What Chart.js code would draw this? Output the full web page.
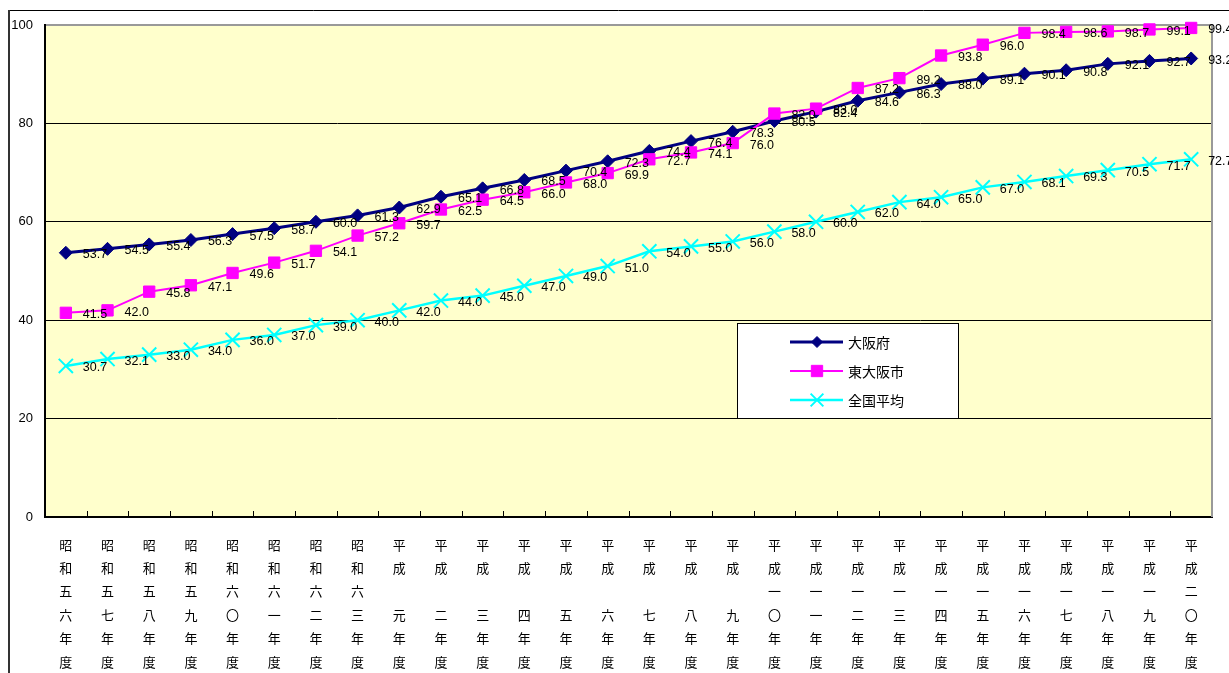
<!DOCTYPE html>
<html lang="ja">
<head>
<meta charset="utf-8">
<title>大阪府・東大阪市・全国平均の推移</title>
<script src="https://cdn.jsdelivr.net/npm/chart.js@4.4.1/dist/chart.umd.min.js"></script>
<style>
  html, body { margin: 0; padding: 0; background: #ffffff; overflow: hidden; }
  canvas { display: block; }
</style>
</head>
<body>
<canvas id="chart" width="1229" height="673"></canvas>
<script>
// Fiscal years, written one character per row (full-width space keeps the rows aligned)
const categories = [
  '昭和五六年度', '昭和五七年度', '昭和五八年度', '昭和五九年度',
  '昭和六〇年度', '昭和六一年度', '昭和六二年度', '昭和六三年度',
  '平成　元年度', '平成　二年度', '平成　三年度', '平成　四年度',
  '平成　五年度', '平成　六年度', '平成　七年度', '平成　八年度',
  '平成　九年度', '平成一〇年度', '平成一一年度', '平成一二年度',
  '平成一三年度', '平成一四年度', '平成一五年度', '平成一六年度',
  '平成一七年度', '平成一八年度', '平成一九年度', '平成二〇年度'
];

const seriesNames = ['大阪府', '東大阪市', '全国平均'];

const osakaFu = [
  53.7, 54.5, 55.4, 56.3, 57.5, 58.7, 60.0, 61.3,
  62.9, 65.1, 66.8, 68.5, 70.4, 72.3, 74.4, 76.4,
  78.3, 80.5, 82.4, 84.6, 86.3, 88.0, 89.1, 90.1,
  90.8, 92.1, 92.7, 93.2
];

const higashiOsaka = [
  41.5, 42.0, 45.8, 47.1, 49.6, 51.7, 54.1, 57.2,
  59.7, 62.5, 64.5, 66.0, 68.0, 69.9, 72.7, 74.1,
  76.0, 82.0, 83.0, 87.2, 89.2, 93.8, 96.0, 98.4,
  98.6, 98.7, 99.1, 99.4
];

const nationalAvg = [
  30.7, 32.1, 33.0, 34.0, 36.0, 37.0, 39.0, 40.0,
  42.0, 44.0, 45.0, 47.0, 49.0, 51.0, 54.0, 55.0,
  56.0, 58.0, 60.0, 62.0, 64.0, 65.0, 67.0, 68.1,
  69.3, 70.5, 71.7, 72.7
];

const yTicks = [0, 20, 40, 60, 80, 100];

const CJK = '"Noto Sans CJK JP", "Noto Sans", sans-serif';
const NUM = '"Liberation Sans", Arial, sans-serif';

// Yellow plot fill, outer frame, grey plot edge and inner category tick marks
const framePlugin = {
  id: 'frame',
  beforeDraw(chart) {
    const { ctx, chartArea: a } = chart;
    ctx.save();
    ctx.fillStyle = '#FFFFCC';
    ctx.fillRect(a.left, a.top, a.right - a.left, a.bottom - a.top);
    ctx.strokeStyle = '#000000';
    ctx.lineWidth = 1;
    ctx.beginPath();
    ctx.moveTo(8, 10.5);
    ctx.lineTo(chart.width, 10.5);
    ctx.stroke();
    ctx.strokeStyle = '#333333';
    ctx.lineWidth = 2;
    ctx.beginPath();
    ctx.moveTo(9, 10);
    ctx.lineTo(9, chart.height);
    ctx.stroke();
    ctx.restore();
  },
  beforeDatasetsDraw(chart) {
    const { ctx, chartArea: a } = chart;
    ctx.save();
    ctx.strokeStyle = '#999999';
    ctx.lineWidth = 2;
    ctx.beginPath();
    ctx.moveTo(a.right, a.top - 1);
    ctx.lineTo(a.right, a.bottom);
    ctx.stroke();
    const n = categories.length;
    const step = (a.right - a.left) / n;
    ctx.strokeStyle = '#000000';
    ctx.lineWidth = 1;
    ctx.beginPath();
    for (let i = 1; i < n; i++) {
      const x = Math.round(a.left + i * step) + 0.5;
      ctx.moveTo(x, a.bottom - 6);
      ctx.lineTo(x, a.bottom);
    }
    ctx.stroke();
    ctx.restore();
  }
};

// Value labels to the right of every point
const valueLabelPlugin = {
  id: 'valueLabels',
  afterDatasetsDraw(chart) {
    const { ctx } = chart;
    ctx.save();
    ctx.font = '12.5px ' + NUM;
    ctx.fillStyle = '#000000';
    ctx.textAlign = 'left';
    ctx.textBaseline = 'middle';
    chart.data.datasets.forEach((ds, di) => {
      const meta = chart.getDatasetMeta(di);
      meta.data.forEach((pt, i) => {
        ctx.fillText(ds.data[i].toFixed(1), pt.x + 17, pt.y + 2);
      });
    });
    ctx.restore();
  }
};

// Boxed legend inside the plot
const boxLegendPlugin = {
  id: 'boxLegend',
  afterDraw(chart) {
    const { ctx } = chart;
    const box = { x: 737.5, y: 323.5, w: 221, h: 95 };
    ctx.save();
    ctx.fillStyle = '#ffffff';
    ctx.fillRect(box.x, box.y, box.w, box.h);
    ctx.strokeStyle = '#000000';
    ctx.lineWidth = 1;
    ctx.strokeRect(box.x, box.y, box.w, box.h);
    const rows = [342, 371, 400];
    chart.data.datasets.forEach((ds, i) => {
      const y = rows[i];
      ctx.strokeStyle = ds.borderColor;
      ctx.lineWidth = ds.borderWidth;
      ctx.beginPath();
      ctx.moveTo(790, y);
      ctx.lineTo(843, y);
      ctx.stroke();
      ctx.fillStyle = ds.backgroundColor;
      ctx.strokeStyle = ds.borderColor;
      ctx.lineWidth = ds.pointBorderWidth;
      Chart.helpers.drawPoint(ctx, {
        pointStyle: ds.pointStyle,
        radius: ds.legendRadius,
        borderWidth: ds.pointBorderWidth,
        rotation: 0
      }, 817, y);
      ctx.fillStyle = '#000000';
      ctx.font = '14px ' + CJK;
      ctx.textAlign = 'left';
      ctx.textBaseline = 'middle';
      ctx.fillText(ds.label, 848, y + 1);
    });
    ctx.restore();
  }
};

new Chart(document.getElementById('chart'), {
  type: 'line',
  data: {
    labels: categories.map(c => Array.from(c)),
    datasets: [
      {
        label: seriesNames[0],
        data: osakaFu,
        borderColor: '#000080',
        backgroundColor: '#000080',
        borderWidth: 3,
        pointStyle: 'rectRot',
        pointRadius: 6.5,
        pointBorderWidth: 1,
        legendRadius: 5.5,
        order: 3,
        clip: false
      },
      {
        label: seriesNames[1],
        data: higashiOsaka,
        borderColor: '#FF00FF',
        backgroundColor: '#FF00FF',
        borderWidth: 2,
        pointStyle: 'rect',
        pointRadius: 8,
        pointBorderWidth: 1,
        legendRadius: 8,
        order: 2,
        clip: false
      },
      {
        label: seriesNames[2],
        data: nationalAvg,
        borderColor: '#00FFFF',
        backgroundColor: '#00FFFF',
        borderWidth: 2.5,
        pointStyle: 'crossRot',
        pointRadius: 10,
        pointBorderWidth: 2,
        legendRadius: 9,
        order: 1,
        clip: false
      }
    ]
  },
  options: {
    responsive: false,
    devicePixelRatio: 1,
    animation: false,
    events: [],
    layout: { padding: { left: 0, top: 25, right: 17, bottom: 0 } },
    plugins: {
      legend: { display: false },
      tooltip: { enabled: false },
      title: { display: false }
    },
    elements: {
      line: { tension: 0 },
      point: { hoverRadius: 0 }
    },
    scales: {
      x: {
        type: 'category',
        offset: true,
        grid: { display: false, drawTicks: false },
        border: { display: true, color: '#000000', width: 2 },
        ticks: {
          autoSkip: false,
          maxRotation: 0,
          minRotation: 0,
          padding: 16,
          color: '#000000',
          font: { family: CJK, size: 13, lineHeight: 1.8 }
        },
        afterFit(scale) { scale.height = 156; }
      },
      y: {
        min: 0,
        max: 100,
        afterBuildTicks(scale) { scale.ticks = yTicks.map(v => ({ value: v })); },
        grid: {
          drawTicks: false,
          color: ctx => (ctx.tick && ctx.tick.value === 100 ? '#999999' : '#000000'),
          lineWidth: ctx => (ctx.tick && ctx.tick.value === 100 ? 2 : 1)
        },
        border: { display: true, color: '#000000', width: 2 },
        ticks: {
          padding: 12,
          color: '#000000',
          font: { family: NUM, size: 13 }
        },
        afterFit(scale) { scale.width = 45; }
      }
    }
  },
  plugins: [framePlugin, valueLabelPlugin, boxLegendPlugin]
});
</script>
</body>
</html>
